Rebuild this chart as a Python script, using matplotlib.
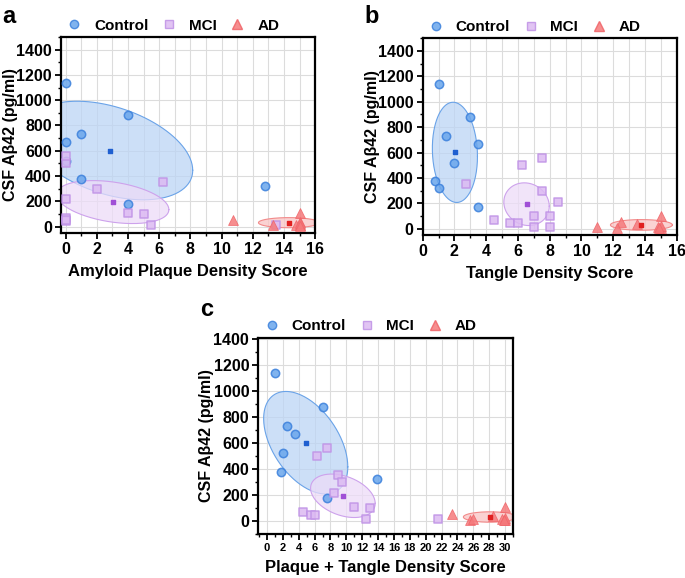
import numpy as np
import matplotlib
matplotlib.use("Agg")
import matplotlib.pyplot as plt
from matplotlib.ticker import MultipleLocator
from matplotlib.lines import Line2D

plt.rcParams['font.family'] = ['Liberation Sans', 'DejaVu Sans']
plt.rcParams['font.weight'] = 'bold'

# CSF Abeta42 (pg/ml) and neuropathology scores per group
csf_control = [1140, 880, 730, 670, 520, 375, 325, 175]
plaque_control = [0, 4, 1, 0, 0, 1, 12.8, 4]
tangle_control = [1, 3, 1.5, 3.5, 2, 0.75, 1, 3.5]

csf_mci = [355, 70, 45, 50, 500, 560, 300, 215, 105, 100, 15, 15]
plaque_mci = [6.25, 0, 0, 0, 0, 0, 2, 0, 4, 5, 5.5, 13.5]
tangle_mci = [2.75, 4.5, 5.5, 6, 6.25, 7.5, 7.5, 8.5, 7, 8, 7, 8]

csf_ad = [55, 10, 105, 40, 15, 15, 10, 25, 5]
plaque_ad = [10.75, 13.3, 15, 15, 15, 14.8, 15, 15, 15]
tangle_ad = [12.5, 12.25, 15, 13.5, 11, 14.8, 15, 15, 14.9]

groups = ['Control', 'MCI', 'AD']

# ellipse half-extents (x, y) and tilt per panel, order Control, MCI, AD
ellipse_a = [(5.3, 390, -0.40), (3.6, 170, -0.35), (1.95, 40, 0.0)]
ellipse_b = [(1.42, 394, -0.08), (1.43, 168, -0.10), (1.95, 42, 0.0)]
ellipse_c = [(5.3, 394, -0.47), (4.07, 167, -0.35), (3.35, 40, 0.0)]

styles = {
    'Control': dict(marker='o', s=36, facecolor='#6aa6ec', edgecolor='#3b80dc', lw=1.1),
    'MCI': dict(marker='s', s=32, facecolor='#dcbaf2', edgecolor='#bf92e6', lw=1.1),
    'AD': dict(marker='^', s=50, facecolor='#f57a7c', edgecolor='#f06468', lw=0.6),
}
ell_colors = {
    'Control': ('#bcd5f5', '#6aa3e8', '#1f5fd0'),
    'MCI': ('#eddcf8', '#cda2ec', '#a04fd6'),
    'AD': ('#f9c4c4', '#f28a8a', '#e02020'),
}


def draw_ellipse(ax, cx, cy, hx, hy, rho, face, edge):
    t = np.linspace(0, 2 * np.pi, 300)
    x = cx + hx * np.cos(t)
    y = cy + hy * (rho * np.cos(t) + np.sqrt(1 - rho ** 2) * np.sin(t))
    ax.fill(x, y, facecolor=face, edgecolor='none', alpha=0.75, zorder=2)
    ax.plot(x, y, color=edge, lw=0.8, zorder=2)


def panel(ax, xs, ys, ells, xlim, ylim, xlabel, xtick_size, grid_minor_x, leg_x, ylab_x):
    for g, x, y, e in zip(groups, xs, ys, ells):
        face, edge, dark = ell_colors[g]
        cx, cy = np.mean(x), np.mean(y)
        draw_ellipse(ax, cx, cy, e[0], e[1], e[2], face, edge)
        st = styles[g]
        ax.scatter(x, y, marker=st['marker'], s=st['s'], facecolor=st['facecolor'],
                   edgecolor=st['edgecolor'], linewidths=st['lw'], alpha=0.85, zorder=3)
        ax.scatter([cx], [cy], marker='s', s=7, color=dark, zorder=4)
    ax.set_xlim(*xlim)
    ax.set_ylim(*ylim)
    ax.xaxis.set_major_locator(MultipleLocator(2))
    ax.xaxis.set_minor_locator(MultipleLocator(1))
    ax.yaxis.set_major_locator(MultipleLocator(200))
    ax.yaxis.set_minor_locator(MultipleLocator(100))
    ax.grid(True, which='major', color='#dcdcdc', lw=0.8, zorder=0)
    if grid_minor_x:
        ax.grid(True, which='minor', axis='x', color='#dcdcdc', lw=0.8, zorder=0)
    ax.set_axisbelow(True)
    for sp in ax.spines.values():
        sp.set_linewidth(1.6)
    ax.tick_params(which='major', length=4, width=1.3, labelsize=11.5, pad=2.5)
    ax.tick_params(which='minor', length=2.5, width=1.0)
    ax.tick_params(axis='x', which='major', labelsize=xtick_size)
    for lab in ax.get_xticklabels() + ax.get_yticklabels():
        lab.set_fontweight('bold')
    ax.set_xlabel(xlabel, fontsize=12, fontweight='bold', labelpad=5)
    ax.set_ylabel('CSF Aβ42 (pg/ml)', fontsize=11.5, fontweight='bold')
    ax.yaxis.set_label_coords(ylab_x, 0.5)

    handles = []
    for g in groups:
        st = styles[g]
        handles.append(Line2D([], [], ls='none', marker=st['marker'], markersize=np.sqrt(st['s']),
                              markerfacecolor=st['facecolor'], markeredgecolor=st['edgecolor'],
                              alpha=0.85, label=g))
    ax.legend(handles=handles, loc='lower center', bbox_to_anchor=(leg_x, 0.99), ncol=3,
              frameon=False, prop={'weight': 'bold', 'size': 11},
              handlelength=1.0, columnspacing=0.85, handletextpad=0.8, borderaxespad=0.0)


fig = plt.figure(figsize=(6.85, 5.78), dpi=100)
ax_a = fig.add_axes([0.089, 0.597, 0.371, 0.339])
ax_b = fig.add_axes([0.617, 0.593, 0.371, 0.341])
ax_c = fig.add_axes([0.377, 0.076, 0.372, 0.340])

panel(ax_a, [plaque_control, plaque_mci, plaque_ad], [csf_control, csf_mci, csf_ad],
      ellipse_a, (-0.3, 16), (-50, 1500), 'Amyloid Plaque Density Score', 11.5, True,
      0.44, -0.17)
panel(ax_b, [tangle_control, tangle_mci, tangle_ad], [csf_control, csf_mci, csf_ad],
      ellipse_b, (0, 16), (-50, 1500), 'Tangle Density Score', 11.5, True,
      0.44, -0.166)

sum_control = np.add(plaque_control, tangle_control)
sum_mci = np.add(plaque_mci, tangle_mci)
sum_ad = np.add(plaque_ad, tangle_ad)
panel(ax_c, [sum_control, sum_mci, sum_ad], [csf_control, csf_mci, csf_ad],
      ellipse_c, (-1.1, 31), (-100, 1410), 'Plaque + Tangle Density Score', 8, False,
      0.44, -0.172)

fig.text(0.004, 0.972, 'a', fontsize=17, fontweight='bold', va='center')
fig.text(0.532, 0.972, 'b', fontsize=17, fontweight='bold', va='center')
fig.text(0.292, 0.465, 'c', fontsize=17, fontweight='bold', va='center')

fig.savefig('out.png', dpi=100)
